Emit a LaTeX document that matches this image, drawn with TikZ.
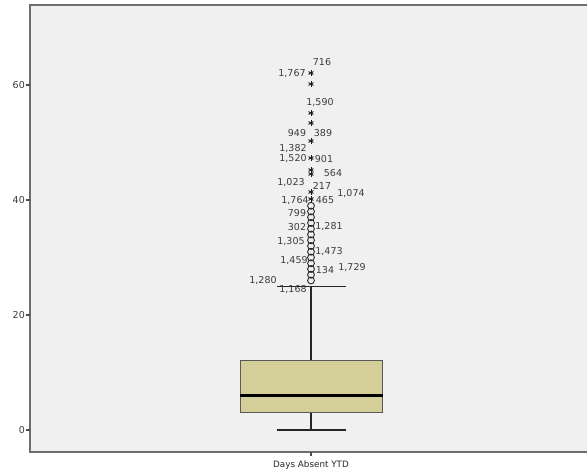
\documentclass[tikz,border=0pt]{standalone}
\usepackage{fontspec}
\setmainfont{DejaVu Sans}
\definecolor{plotbg}{HTML}{F0F0F0}
\definecolor{axisgray}{HTML}{6E6E6E}
\definecolor{boxfill}{HTML}{D4CE98}
\definecolor{labgray}{HTML}{3C3C3C}
\begin{document}
\begin{tikzpicture}[x=1pt,y=-1pt,
  axisline/.style={draw=axisgray,line width=1.5pt},
  tickline/.style={draw=axisgray!70!black,line width=1.1pt},
  ticklab/.style={font=\fontsize{9.5}{10}\selectfont,text=labgray,inner sep=0pt,anchor=east},
  olab/.style={font=\fontsize{9.5}{10}\selectfont,text=labgray,inner sep=0pt},
  whisk/.style={draw=black!85,line width=1.3pt},
  circ/.style={circle,draw=black!85,line width=0.9pt,minimum size=6.8pt,inner sep=0pt},
  astpic/.pic={\foreach \a in {0,60,120}{\draw[black!90,line width=0.9pt] (\a+90:2.8pt) -- (\a+270:2.8pt);}}
]
\useasboundingbox (0,0) rectangle (587,473);
\fill[white] (0,0) rectangle (587,473);
\fill[plotbg] (30,5) rectangle (587,452);
\draw[axisline] (587,5) -- (30,5) -- (30,452) -- (587,452);
% y ticks
\foreach \v/\n in {0/t0,20/t20,40/t40,60/t60}{
  \coordinate (\n) at (30,{430-5.75*\v});
  \draw[tickline] (\n) -- ++(-4.5,0);
  \node[ticklab] (\n l) at ([xshift=-5pt]\n) {\v};
}
% x tick and label
\coordinate (xt) at (311,452);
\draw[tickline] (xt) -- ++(0,4);
\node[font=\fontsize{8.8}{10}\selectfont,text=black!85,inner sep=0pt] (xlab) at (311,465) {Days Absent YTD};
% box
\coordinate (q3) at (311,{430-5.75*12});
\coordinate (q1) at (311,{430-5.75*3});
\coordinate (wtop) at (311,{430-5.75*25});
\coordinate (wbot) at (311,{430-5.75*0});
\draw[whisk] (q3) -- (wtop);
\draw[whisk] (q1) -- (wbot);
\draw[whisk] ([xshift=-34.5pt]wtop) -- ([xshift=34.5pt]wtop);
\draw[whisk] ([xshift=-34.5pt]wbot) -- ([xshift=34.5pt]wbot);
\node[draw=black!65,line width=1pt,fill=boxfill,minimum width=142pt,minimum height={5.75*9},inner sep=0pt] (box) at (311,{430-5.75*7.5}) {};
\draw[black,line width=2.6pt] (box.west |- 0,{430-5.75*6}) -- (box.east |- 0,{430-5.75*6});
% circles
\foreach \v in {26,...,39}{
  \node[circ] (c\v) at (311,{430-5.75*\v}) {};
}
% stars
\foreach \yy [count=\i] in {73,84,113,123,141,158,170,174,192,199}{
  \pic (s\i) at (311,\yy) {astpic};
}
% outlier labels
\node[olab] (l716) at (322,62) {716};
\node[olab] (l1767) at (292,74) {1,767};
\node[olab] (l1590) at (320,103) {1,590};
\node[olab] (l949) at (297,133) {949};
\node[olab] (l389) at (323,133) {389};
\node[olab] (l1382) at (293,149) {1,382};
\node[olab] (l1520) at (293,159) {1,520};
\node[olab] (l901) at (324,159) {901};
\node[olab] (l564) at (333,173) {564};
\node[olab] (l1023) at (291,183) {1,023};
\node[olab] (l217) at (322,186) {217};
\node[olab] (l1074) at (351,194) {1,074};
\node[olab] (l1764) at (295,201) {1,764};
\node[olab] (l465) at (325,200) {465};
\node[olab] (l799) at (297,213) {799};
\node[olab] (l302) at (297,227) {302};
\node[olab] (l1281) at (329,227) {1,281};
\node[olab] (l1305) at (291,242) {1,305};
\node[olab] (l1473) at (329,252) {1,473};
\node[olab] (l1459) at (294,261) {1,459};
\node[olab] (l134) at (325,270) {134};
\node[olab] (l1729) at (352,268) {1,729};
\node[olab] (l1280) at (263,281) {1,280};
\node[olab] (l1168) at (293,290) {1,168};
\end{tikzpicture}
\end{document}
